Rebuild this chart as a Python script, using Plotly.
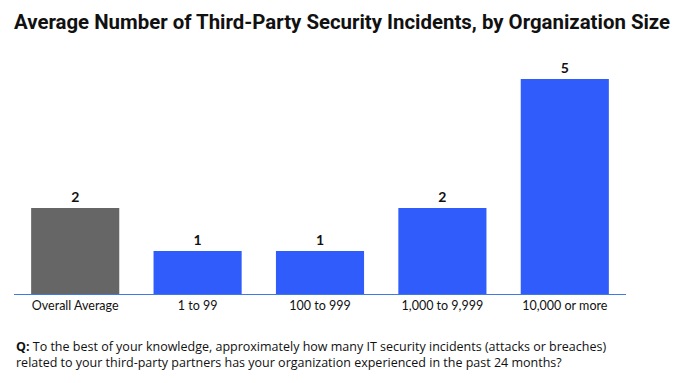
import plotly.graph_objects as go

categories = ["Overall Average", "1 to 99", "100 to 999", "1,000 to 9,999", "10,000 or more"]
values = [2, 1, 1, 2, 5]
labels = ["2", "1", "1", "2", "5"]
colors = ["#666666", "#2F5CFA", "#2F5CFA", "#2F5CFA", "#2F5CFA"]

W, H = 684, 383
fig = go.Figure(go.Bar(
    x=categories, y=values, text=labels, textposition="outside",
    marker=dict(color=colors, line=dict(width=0)),
    textfont=dict(family="Lato, Noto Sans, sans-serif", size=14, color="#111111", weight="bold"),
    width=0.72, cliponaxis=False,
))

top_px, base_px = 60, 294
left_px, right_px = 14, 626
fig.update_layout(
    width=W, height=H,
    margin=dict(l=left_px, r=W - right_px, t=top_px, b=H - base_px),
    plot_bgcolor="white", paper_bgcolor="white",
    showlegend=False, bargap=0.28,
    xaxis=dict(showline=True, linecolor="#3D7BE3", linewidth=1.2, ticks="",
               tickfont=dict(family="Lato, Noto Sans, sans-serif", size=12.5, color="#111111"),
               showgrid=False, zeroline=False, automargin=False),
    yaxis=dict(range=[0, (base_px - top_px) / 43.0], visible=False, showgrid=False, zeroline=False),
    annotations=[
        dict(text="Average Number of Third-Party Security Incidents, by Organization Size",
             xref="paper", yref="paper", x=(342 - left_px) / (right_px - left_px), y=1,
             yshift=(top_px - 22), xanchor="center", yanchor="middle", showarrow=False,
             font=dict(family="Roboto, sans-serif", size=20.4, color="#111111", weight="bold")),
        dict(text="<b>Q:</b> To the best of your knowledge, approximately how many IT security incidents (attacks or breaches)<br>related to your third-party partners has your organization experienced in the past 24 months?",
             xref="paper", yref="paper", x=0, y=0, yshift=-(354 - base_px), xshift=0,
             xanchor="left", yanchor="middle", align="left", showarrow=False,
             font=dict(family="Open Sans, Lato, sans-serif", size=12.5, color="#111111")),
    ],
)

fig.write_html("out.html", config={"displayModeBar": False},
               post_script="document.body.style.margin='0';document.body.style.padding='0';")
